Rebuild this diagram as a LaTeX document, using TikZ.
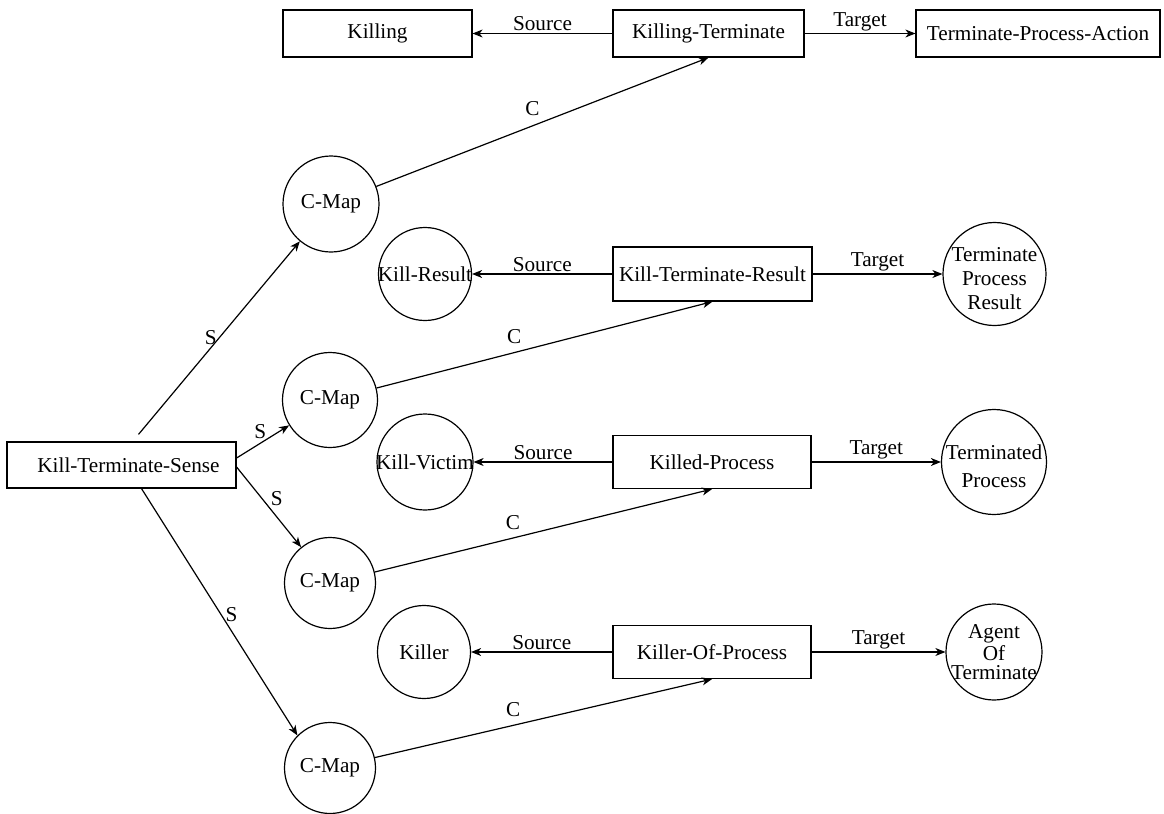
\documentclass[tikz,border=0pt]{standalone}
\usepackage{fontspec}
\setmainfont{Liberation Serif}
\usetikzlibrary{arrows.meta}
\begin{document}
\begin{tikzpicture}[x=0.5pt,y=-0.5pt,
  every node/.style={font=\fontsize{10.6}{12.5}\selectfont},
  box/.style={draw, line width=0.6pt, inner sep=0pt},
  circ/.style={draw, circle, line width=0.6pt, inner sep=0pt},
  conn/.style={line width=0.6pt, -{Stealth[length=5pt,width=4pt,inset=1.5pt]}},
  lab/.style={inner sep=1pt},
  ctext/.style={align=center, inner sep=0pt}
]
\useasboundingbox (0,0) rectangle (1164,814);

% boxes
\node[box, minimum width=94.5pt, minimum height=23.5pt] (killing) at (377.5,33.5) {Killing};
\node[box, minimum width=95.5pt, minimum height=23.5pt] (kt) at (708.5,33.5) {Killing-Terminate};
\node[box, minimum width=122pt, minimum height=23.5pt] (tpa) at (1038,33.5) {Terminate-Process-Action};
\node[box, minimum width=114.5pt, minimum height=23pt] (kts) at (121.5,465) {\hspace*{7pt}Kill-Terminate-Sense};
\node[box, minimum width=99.5pt, minimum height=27pt] (ktr) at (712.5,274) {Kill-Terminate-Result};
\node[box, minimum width=99pt, minimum height=26.5pt] (kp) at (712,462) {Killed-Process};
\node[box, minimum width=99pt, minimum height=26.5pt] (kop) at (712,652) {Killer-Of-Process};

% C-Map circles
\node[circ, minimum size=48pt] (cm1) at (331,204) {C-Map};
\node[circ, minimum size=47.5pt] (cm2) at (330,400) {C-Map};
\node[circ, minimum size=45.5pt] (cm3) at (330,583) {C-Map};
\node[circ, minimum size=45.5pt] (cm4) at (330,768) {C-Map};

% source circles
\node[circ, minimum size=46.5pt, label={[ctext]center:Kill-Result}] (kr) at (425,274) {};
\node[circ, minimum size=48pt, label={[ctext]center:Kill-Victim}] (kv) at (425,462) {};
\node[circ, minimum size=46.5pt, label={[ctext]center:Killer}] (kl) at (424,652) {};

% target circles
\node[circ, minimum size=51.5pt, label={[ctext, yshift=-2.5pt, font=\fontsize{10.6}{12}\selectfont]center:Terminate\\Process\\Result}] (tpr) at (994.5,274) {};
\node[circ, minimum size=52.5pt, label={[ctext, yshift=-2pt, font=\fontsize{10.6}{14}\selectfont]center:Terminated\\Process}] (tp) at (994,462) {};
\node[circ, minimum size=48pt, label={[ctext, font=\fontsize{10.6}{9.6}\selectfont]center:Agent\\Of\\Terminate}] (aot) at (994,652) {};

% top row
\draw[conn] (kt) -- node[lab,above]{Source} (killing);
\draw[conn] (kt) -- node[lab,above]{Target} (tpa);
% row 1
\draw[conn] (ktr) -- node[lab,above]{Source} (kr);
\draw[conn] (ktr) -- node[lab,above]{Target} (tpr);
% row 2
\draw[conn] (kp) -- node[lab,above]{Source} (kv);
\draw[conn] (kp) -- node[lab,above]{Target} (tp);
% row 3
\draw[conn] (kop) -- node[lab,above]{Source} (kl);
\draw[conn] (kop) -- node[lab,above]{Target} (aot);

% S connectors
\draw[conn] ([xshift=8.5pt,yshift=3.5pt]kts.north) -- node[lab,pos=0.5,left]{S} (cm1);
\draw[conn] ([yshift=3.5pt]kts.east) -- node[lab,pos=0.45,above=1pt]{S} (cm2);
\draw[conn] ([yshift=-1pt]kts.east) -- node[lab,pos=0.4,right=3pt]{S} (cm3);
\draw[conn] ([xshift=10pt]kts.south) -- node[lab,pos=0.51,right=1pt]{S} (cm4.135);

% C connectors
\draw[conn] (cm1) -- node[lab,pos=0.47,above=4pt]{C} (kt.south);
\draw[conn] (cm2) -- node[lab,pos=0.41,above=3pt]{C} (ktr.south);
\draw[conn] (cm3) -- node[lab,pos=0.41,above=3pt]{C} (kp.south);
\draw[conn] (cm4) -- node[lab,pos=0.41,above=3pt]{C} (kop.south);
\end{tikzpicture}
\end{document}
